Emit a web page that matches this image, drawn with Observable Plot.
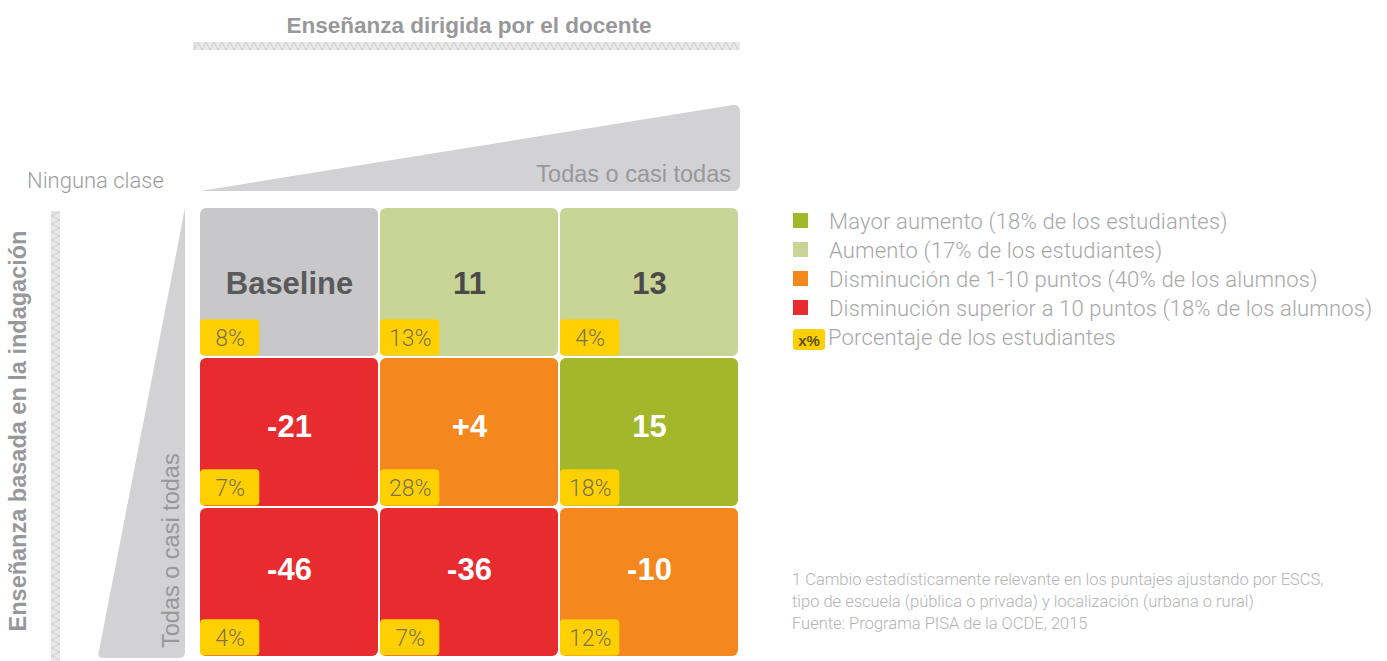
<!DOCTYPE html>
<html><head><meta charset="utf-8">
<script src="https://cdn.jsdelivr.net/npm/d3@7"></script>
<script src="https://cdn.jsdelivr.net/npm/@observablehq/plot@0.6"></script>
<style>
body{margin:0;background:#fff;}
#chart{position:relative;width:1387px;height:661px;overflow:hidden;}
</style>
</head><body><div id="chart"></div>
<script>
// ---- data ----
const teacherLevels = ["Ninguna clase", "Algunas clases", "Todas o casi todas"]; // columns
const inquiryLevels = ["Ninguna clase", "Algunas clases", "Todas o casi todas"]; // rows
const cellTeacher = ["Ninguna clase","Algunas clases","Todas o casi todas","Ninguna clase","Algunas clases","Todas o casi todas","Ninguna clase","Algunas clases","Todas o casi todas"];
const cellInquiry = ["Ninguna clase","Ninguna clase","Ninguna clase","Algunas clases","Algunas clases","Algunas clases","Todas o casi todas","Todas o casi todas","Todas o casi todas"];
const cellLabels = ["Baseline", "11", "13", "-21", "+4", "15", "-46", "-36", "-10"];
const cellShares = ["8%", "13%", "4%", "7%", "28%", "18%", "4%", "7%", "12%"];
const cellGroups = ["base", "aumento", "aumento", "fuerte", "dism", "mayor", "fuerte", "fuerte", "dism"];
const groupKeys = ["base", "mayor", "aumento", "dism", "fuerte"];
const groupColors = ["#C8C8CA", "#A3B72B", "#C9D596", "#F5871F", "#E82B2E"];
const legendKeys = ["mayor", "aumento", "dism", "fuerte"];
const legendLabels = [
  "Mayor aumento (18% de los estudiantes)",
  "Aumento (17% de los estudiantes)",
  "Disminución de 1-10 puntos (40% de los alumnos)",
  "Disminución superior a 10 puntos (18% de los alumnos)"
];
const badgeLegend = "Porcentaje de los estudiantes";
const titleTop = "Enseñanza dirigida por el docente";
const titleLeft = "Enseñanza basada en la indagación";
const lowLabel = "Ninguna clase";
const highLabel = "Todas o casi todas";
const footnotes = [
  "1 Cambio estadísticamente relevante en los puntajes ajustando por ESCS,",
  "tipo de escuela (pública o privada) y localización (urbana o rural)",
  "Fuente: Programa PISA de la OCDE, 2015"
];

const table = cellLabels.map((label, i) => ({
  teacher: cellTeacher[i], inquiry: cellInquiry[i], label, share: cellShares[i], group: cellGroups[i]
}));
const labelFill = {base: "#5a5a5c", aumento: "#4a4a4a", mayor: "white", dism: "white", fuerte: "white"};

// ---- layout ----
const W = 1387, H = 661, mL = 198, mR = 647, mT = 206, mB = 3;
const bw = (W - mL - mR) / 3, bh = (H - mT - mB) / 3;
const badgeW = 60, badgeH = 37;
const rowShift = [2, -5, -12]; // label offset per row, as in the reference
const boldFont = "'Liberation Sans', Arial, sans-serif";
const lightFont = "Roboto, 'Liberation Sans', sans-serif";

const labelMarks = [];
inquiryLevels.forEach((lvl, r) => {
  groupKeys.forEach(g => {
    const sub = table.filter(d => d.inquiry === lvl && d.group === g);
    if (sub.length) labelMarks.push(Plot.text(sub, {x: "teacher", y: "inquiry", text: "label",
      fill: labelFill[g], fontSize: 31, fontWeight: "bold", dy: rowShift[r]}));
  });
});

const plot = Plot.plot({
  width: W, height: H,
  marginLeft: mL, marginRight: mR, marginTop: mT, marginBottom: mB,
  x: {type: "band", domain: teacherLevels, padding: 0, axis: null},
  y: {type: "band", domain: inquiryLevels, padding: 0, axis: null},
  color: {type: "ordinal", domain: groupKeys, range: groupColors},
  style: {fontFamily: boldFont, background: "white"},
  marks: [
    Plot.cell(table, {x: "teacher", y: "inquiry", fill: "group", inset: 1, rx: 6}),
    Plot.cell(table, {x: "teacher", y: "inquiry", fill: "#FFD000",
      insetLeft: 1, insetBottom: 1.5, insetRight: bw - 1 - badgeW, insetTop: bh - 1.5 - badgeH, rx: 4}),
    ...labelMarks,
    Plot.text(table, {x: "teacher", y: "inquiry", text: "share", textAnchor: "middle",
      dx: -bw / 2 + 1 + badgeW / 2, dy: bh / 2 - 1.5 - badgeH / 2 + 1, fontSize: 23, fill: "#7a7250",
      fontFamily: lightFont, fontWeight: 300})
  ]
});
document.getElementById("chart").appendChild(plot);

// ---- decorations ----
const svg = d3.select(plot);
const gx0 = mL, gx1 = W - mR, gy0 = mT, gy1 = H - mB;
const deco = svg.insert("g", ":first-child").attr("text-anchor", "start");

// top title + textured rule
deco.append("text").attr("x", (gx0 + gx1) / 2).attr("y", 33).attr("text-anchor", "middle")
  .attr("font-family", boldFont).attr("font-weight", "bold").attr("font-size", 22.5)
  .attr("fill", "#98989a").text(titleTop);
function zigzagH(x0, x1, y0, y1, step) {
  let p = `M${x0},${y0}`, up = false;
  for (let x = x0; x <= x1; x += step) { p += `L${x},${up ? y0 : y1}`; up = !up; }
  return p;
}
function zigzagV(y0, y1, x0, x1, step) {
  let p = `M${x0},${y0}`, up = false;
  for (let y = y0; y <= y1; y += step) { p += `L${up ? x0 : x1},${y}`; up = !up; }
  return p;
}
deco.append("rect").attr("x", gx0 - 4).attr("y", 42).attr("width", gx1 - gx0 + 4).attr("height", 8).attr("fill", "#e8e8e8");
deco.append("path").attr("d", zigzagH(gx0 - 4, gx1, 42, 50, 4)).attr("fill", "none").attr("stroke", "#c8c8ca").attr("stroke-width", 0.8);

// top wedge
deco.append("path").attr("d", `M${gx0 + 2},${gy0 - 15} L${gx1 - 7},${105} Q${gx1},${104} ${gx1},${112} L${gx1},${gy0 - 22} Q${gx1},${gy0 - 15} ${gx1 - 7},${gy0 - 15} Z`)
  .attr("fill", "#D2D2D4");
deco.append("text").attr("x", gx1 - 9).attr("y", 182).attr("text-anchor", "end")
  .attr("font-family", boldFont).attr("font-size", 23.5).attr("fill", "#98989a").text(highLabel);
deco.append("text").attr("x", 27).attr("y", 188).attr("text-anchor", "start")
  .attr("font-family", lightFont).attr("font-weight", 300).attr("font-size", 22).attr("fill", "#9d9d9f").text(lowLabel);

// left wedge
deco.append("path").attr("d", `M${185},${gy0 + 2} L${185},${gy1 - 6} Q${185},${gy1} ${179},${gy1} L${104},${gy1} Q${96},${gy1} ${99},${gy1 - 7} Z`)
  .attr("fill", "#D2D2D4");
deco.append("text").attr("transform", `translate(179,${gy1 - 10}) rotate(-90)`).attr("text-anchor", "start")
  .attr("font-family", boldFont).attr("font-size", 23.5).attr("fill", "#98989a").text(highLabel);

// left title + textured rule
deco.append("text").attr("transform", `translate(26,${(230 + 632) / 2}) rotate(-90)`).attr("text-anchor", "middle")
  .attr("font-family", boldFont).attr("font-weight", "bold").attr("font-size", 23.5)
  .attr("fill", "#98989a").text(titleLeft);
deco.append("rect").attr("x", 51).attr("y", 212).attr("width", 9).attr("height", H - 212).attr("fill", "#e8e8e8");
deco.append("path").attr("d", zigzagV(212, H, 51, 60, 4)).attr("fill", "none").attr("stroke", "#c8c8ca").attr("stroke-width", 0.8);

// legend
const color = plot.scale("color");
const lg = svg.append("g").attr("font-family", lightFont).attr("font-weight", 300).attr("text-anchor", "start");
legendKeys.forEach((k, i) => {
  const cy = 221 + i * 29;
  lg.append("rect").attr("x", 793).attr("y", cy - 8).attr("width", 15).attr("height", 15).attr("fill", color.apply(k));
  lg.append("text").attr("x", 829).attr("y", cy + 8).attr("font-size", 22).attr("letter-spacing", 0.15)
    .attr("fill", "#a7a7a9").text(legendLabels[i]);
});
lg.append("rect").attr("x", 793).attr("y", 329).attr("width", 32).attr("height", 21).attr("rx", 3).attr("fill", "#FFD000");
lg.append("text").attr("x", 809).attr("y", 346).attr("text-anchor", "middle").attr("font-family", boldFont)
  .attr("font-weight", "bold").attr("font-size", 15).attr("fill", "#5b4f1a").text("x%");
lg.append("text").attr("x", 828).attr("y", 345).attr("font-size", 22).attr("letter-spacing", 0.15)
  .attr("fill", "#a7a7a9").text(badgeLegend);

// footnotes
footnotes.forEach((t, i) => {
  lg.append("text").attr("x", 792).attr("y", 585 + i * 22).attr("font-size", 16.5).attr("fill", "#b3b3b5").text(t);
});
</script>
</body></html>
